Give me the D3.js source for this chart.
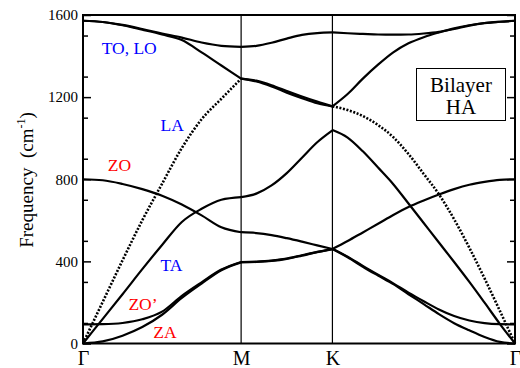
<!DOCTYPE html>
<html>
<head>
<meta charset="utf-8">
<script src="https://cdn.jsdelivr.net/npm/d3@7"></script>
<style>
  body { margin: 0; background: #fff; }
  svg text { font-family: "Liberation Serif", "DejaVu Serif", "Noto Serif", "Times New Roman", serif; }
</style>
</head>
<body>
<div id="chart"></div>
<script>
// symmetry points along the path (units: |GM| = 1)
var symLabels = ["Γ", "M", "K", "Γ"];
var symK = [0, 1, 1.5774, 2.7321];
var yTicks = [0, 400, 800, 1200, 1600];

// k grids for each segment
var kGM = [0, 0.125, 0.25, 0.375, 0.5, 0.625, 0.75, 0.875, 1];
var kMK = [1, 1.0962, 1.1925, 1.2887, 1.3849, 1.4812, 1.5774];
var kKG = [1.5774, 1.6736, 1.7698, 1.866, 1.9623, 2.0585, 2.1547, 2.2509, 2.3472, 2.4434, 2.5396, 2.6359, 2.7321];

// Gamma - M (cm-1)
var toGM  = [1572, 1566, 1552, 1532, 1510, 1490, 1466, 1450, 1445];
var loGM  = [1572, 1566, 1550, 1528, 1505, 1478, 1418, 1354, 1290];
var laGM  = [0, 203, 405, 600, 778, 952, 1092, 1192, 1290];
var taGM  = [0, 120, 240, 362, 480, 592, 656, 700, 713];
var zoGM  = [800, 795, 777, 752, 720, 677, 624, 566, 542];
var zopGM = [93, 94, 100, 118, 155, 232, 298, 360, 397];
var zaGM  = [0, 10, 38, 80, 140, 222, 292, 357, 395];

// M - K
var toMK  = [1445, 1450, 1465, 1485, 1503, 1512, 1515];
var loMK  = [1290, 1280, 1258, 1230, 1203, 1178, 1155];
var laMK  = [1290, 1276, 1252, 1222, 1195, 1170, 1155];
var taMK  = [713, 730, 770, 830, 905, 980, 1038];
var zoMK  = [542, 538, 528, 513, 496, 478, 460];
var zopMK = [397, 399, 404, 414, 430, 446, 460];
var zaMK  = [395, 397, 402, 412, 428, 445, 460];

// K - Gamma
var toKG  = [1515, 1511, 1508, 1505, 1504, 1505, 1510, 1518, 1532, 1548, 1560, 1567, 1572];
var loKG  = [1155, 1215, 1290, 1358, 1418, 1462, 1492, 1515, 1535, 1550, 1561, 1567, 1572];
var laKG  = [1155, 1137, 1108, 1064, 1005, 923, 826, 727, 605, 466, 317, 160, 0];
var taKG  = [1040, 1003, 936, 857, 776, 682, 587, 492, 397, 300, 199, 96, 0];
var zoKG  = [460, 499, 541, 583, 626, 665, 697, 726, 752, 773, 787, 797, 800];
var zopKG = [462, 423, 378, 335, 293, 248, 206, 166, 134, 112, 99, 94, 93];
var zaKG  = [460, 420, 374, 331, 289, 240, 192, 143, 99, 64, 32, 8, 0];

// mode labels
var modeNames  = ["TO, LO", "LA", "ZO", "TA", "ZO\u2019", "ZA"];
var modeColors = ["#0000ff", "#0000ff", "#ff0000", "#0000ff", "#ff0000", "#ff0000"];
var modeK      = [0.118, 0.49, 0.157, 0.49, 0.287, 0.445];
var modeF      = [1410, 1035, 840, 355, 165, 25];

var width = 520, height = 368;
var plotL = 83, plotR = 515, plotT = 15, plotB = 343.5;
var serif = "'Liberation Serif', 'DejaVu Serif', 'Noto Serif', 'Times New Roman', serif";

var svg = d3.select("#chart").append("svg")
  .attr("width", width)
  .attr("height", height);

var x = d3.scaleLinear().domain([0, symK[3]]).range([plotL, plotR]);
var y = d3.scaleLinear().domain([0, 1600]).range([plotB, plotT]);

// vertical lines at M and K
svg.selectAll("line.sym")
  .data(symK.slice(1, 3))
  .enter().append("line")
  .attr("class", "sym")
  .attr("x1", function(d) { return x(d); })
  .attr("x2", function(d) { return x(d); })
  .attr("y1", plotT)
  .attr("y2", plotB)
  .attr("stroke", "#000")
  .attr("stroke-width", 1.2);

// bands
var segs = [
  { k: kGM, bands: [toGM, loGM, taGM, zoGM, zopGM, zaGM], dotted: [laGM] },
  { k: kMK, bands: [toMK, loMK, laMK, taMK, zoMK, zopMK, zaMK], dotted: [] },
  { k: kKG, bands: [toKG, loKG, taKG, zoKG, zopKG, zaKG], dotted: [laKG] }
];

var line = d3.line()
  .x(function(d) { return x(d[0]); })
  .y(function(d) { return y(d[1]); })
  .curve(d3.curveMonotoneX);

function pairs(k, v) {
  return k.map(function(kk, i) { return [kk, v[i]]; });
}

segs.forEach(function(s) {
  s.bands.forEach(function(v) {
    svg.append("path")
      .attr("d", line(pairs(s.k, v)))
      .attr("fill", "none")
      .attr("stroke", "#000")
      .attr("stroke-width", 2.2);
  });
  s.dotted.forEach(function(v) {
    svg.append("path")
      .attr("d", line(pairs(s.k, v)))
      .attr("fill", "none")
      .attr("stroke", "#000")
      .attr("stroke-width", 2.6)
      .attr("stroke-dasharray", "2,1.6");
  });
});

// y axis left, ticks inward
var yAxis = d3.axisLeft(y).tickValues(yTicks).tickSizeInner(-8).tickSizeOuter(0).tickPadding(5)
  .tickFormat(d3.format("d"));
var gy = svg.append("g").attr("transform", "translate(" + plotL + ",0)").call(yAxis);
gy.attr("font-family", null);
gy.select(".domain").remove();
gy.selectAll("line").attr("stroke-width", 1.5);
gy.selectAll("text").attr("font-size", 15).attr("font-family", serif).attr("fill", "#000");

var yMinor = d3.axisLeft(y).tickValues(d3.range(100, 1600, 200)).tickSizeInner(-5).tickSizeOuter(0).tickFormat("");
var gym = svg.append("g").attr("transform", "translate(" + plotL + ",0)").call(yMinor);
gym.select(".domain").remove();
gym.selectAll("line").attr("stroke-width", 1.5);

// right axis ticks inward
var yRight = d3.axisRight(y).tickValues(yTicks).tickSizeInner(-8).tickSizeOuter(0).tickFormat("");
var gr = svg.append("g").attr("transform", "translate(" + plotR + ",0)").call(yRight);
gr.select(".domain").remove();
gr.selectAll("line").attr("stroke-width", 1.5);
var yRightMinor = d3.axisRight(y).tickValues(d3.range(100, 1600, 200)).tickSizeInner(-5).tickSizeOuter(0).tickFormat("");
var grm = svg.append("g").attr("transform", "translate(" + plotR + ",0)").call(yRightMinor);
grm.select(".domain").remove();
grm.selectAll("line").attr("stroke-width", 1.5);

// x axis labels
var xAxis = d3.axisBottom(x).tickValues(symK).tickSize(0).tickPadding(7)
  .tickFormat(function(d, i) { return symLabels[i]; });
var gx = svg.append("g").attr("transform", "translate(0," + plotB + ")").call(xAxis);
gx.attr("font-family", null);
gx.select(".domain").remove();
gx.selectAll("text").attr("font-size", 20).attr("font-family", serif).attr("fill", "#000");

// frame
svg.append("rect")
  .attr("x", plotL).attr("y", plotT)
  .attr("width", plotR - plotL).attr("height", plotB - plotT)
  .attr("fill", "none")
  .attr("stroke", "#000")
  .attr("stroke-width", 2);

// y title
var yt = svg.append("text")
  .attr("transform", "translate(33,180)rotate(-90)")
  .attr("text-anchor", "middle")
  .attr("font-family", serif)
  .attr("font-size", 19)
  .style("white-space", "pre");
yt.append("tspan").text("Frequency  (cm");
yt.append("tspan").attr("dy", -8).attr("font-size", 12).text("-1");
yt.append("tspan").attr("dy", 8).text(")");

// mode labels
svg.selectAll("text.mode")
  .data(modeNames)
  .enter().append("text")
  .attr("class", "mode")
  .attr("x", function(d, i) { return x(modeK[i]); })
  .attr("y", function(d, i) { return y(modeF[i]); })
  .attr("fill", function(d, i) { return modeColors[i]; })
  .attr("font-family", serif)
  .attr("font-size", 17.5)
  .text(function(d) { return d; });

// legend box
svg.append("rect")
  .attr("x", 416.5).attr("y", 68.5)
  .attr("width", 89).attr("height", 52)
  .attr("fill", "#fff")
  .attr("stroke", "#000")
  .attr("stroke-width", 1);
svg.append("text")
  .attr("x", 461).attr("y", 92)
  .attr("text-anchor", "middle")
  .attr("font-family", serif)
  .attr("font-size", 21)
  .text("Bilayer");
svg.append("text")
  .attr("x", 461).attr("y", 114)
  .attr("text-anchor", "middle")
  .attr("font-family", serif)
  .attr("font-size", 21)
  .text("HA");
</script>
</body>
</html>
